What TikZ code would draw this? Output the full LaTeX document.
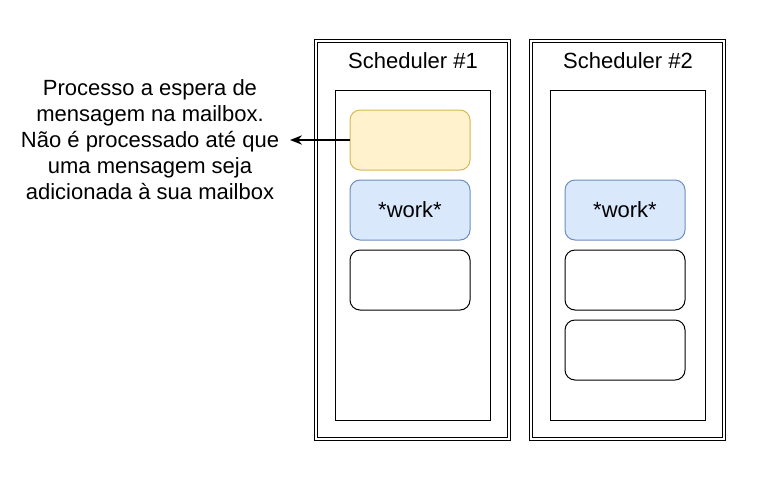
\documentclass[tikz,border=0pt]{standalone}
\usepackage{fontspec}
\setmainfont{Liberation Sans}
\usetikzlibrary{arrows.meta}
\definecolor{waitfill}{HTML}{FFF2CC}
\definecolor{waitdraw}{HTML}{D6B656}
\definecolor{workfill}{HTML}{DAE8FC}
\definecolor{workdraw}{HTML}{6C8EBF}
\tikzset{
	sched/.style={draw,double,line width=0.75pt,double distance=1.5pt,minimum width=193.5*0.75pt,minimum height=398.5*0.75pt,inner sep=0pt},
	queue/.style={draw,line width=0.75pt,minimum width=155*0.75pt,minimum height=330*0.75pt,inner sep=0pt},
	proc/.style={draw,rounded corners=7.5pt,line width=0.75pt,minimum width=120*0.75pt,minimum height=60*0.75pt,inner sep=0pt,font=\fontsize{16.5}{19.5}\selectfont},
	waitproc/.style={proc,fill=waitfill,draw=waitdraw},
	workproc/.style={proc,fill=workfill,draw=workdraw}
}
\begin{document}
\begin{tikzpicture}[>=Stealth,x=0.75pt,y=-0.75pt]
		\useasboundingbox (0,0) rectangle (781,501);
		% schedulers
		\node[sched] (s1) at (412.5,240) {};
		\node[sched] (s2) at (627.5,240) {};
		\node[font=\fontsize{16.5}{19.5}\selectfont] at (413,61) {Scheduler \#1};
		\node[font=\fontsize{16.5}{19.5}\selectfont] at (628,61) {Scheduler \#2};
		\node[queue] (q1) at (412.5,255) {};
		\node[queue] (q2) at (627.5,255) {};
		% processes
		\node[waitproc] (p1) at (410,140) {};
		\node[workproc] (p2) at (410,210) {*work*};
		\node[proc] (p3) at (410,280) {};
		\node[workproc] (r1) at (625,210) {*work*};
		\node[proc] (r2) at (625,280) {};
		\node[proc] (r3) at (625,350) {};
		% legenda
		\node[align=center,font=\fontsize{16.5}{19.5}\selectfont] (msg) at (150,140) {Processo a espera de\\mensagem na mailbox.\\N\~ao \'e processado at\'e que\\uma mensagem seja\\adicionada \`a sua mailbox};
		\coordinate (tip) at (290,140);
		\draw[-{Stealth[length=9pt,width=7pt]},line width=1.1pt] (p1.west) -- (tip);
\end{tikzpicture}
\end{document}
